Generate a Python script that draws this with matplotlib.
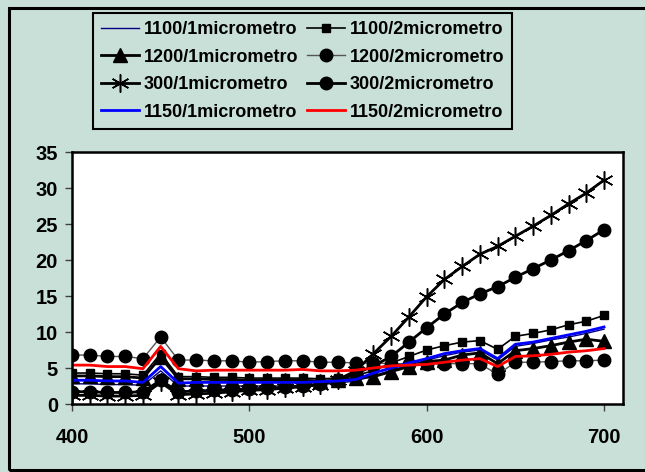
import numpy as np
import matplotlib
matplotlib.use("Agg")
import matplotlib.pyplot as plt
from matplotlib.patches import Rectangle

plt.rcParams['font.family'] = ['Liberation Sans', 'DejaVu Sans']
plt.rcParams['font.weight'] = 'bold'

# dati
wl = np.arange(400, 701, 10)

s1100_1 = [2.8, 2.8, 2.7, 2.7, 2.6, 4.6, 2.5, 2.5, 2.5, 2.5, 2.5, 2.5, 2.5, 2.6, 2.7,
           2.9, 3.2, 3.9, 4.7, 5.4, 6.1, 6.7, 7.2, 7.5, 6.1, 8.0, 8.4, 8.9, 9.3, 9.8, 10.4]
s1100_2 = [4.3, 4.3, 4.2, 4.2, 4.0, 7.0, 3.8, 3.8, 3.7, 3.7, 3.6, 3.6, 3.6, 3.6, 3.5,
           3.6, 4.0, 4.6, 5.7, 6.6, 7.5, 8.1, 8.6, 8.8, 7.6, 9.4, 9.8, 10.3, 11.0, 11.5, 12.3]
s1200_1 = [3.9, 3.9, 3.8, 3.8, 3.6, 6.5, 3.5, 3.5, 3.4, 3.4, 3.3, 3.3, 3.3, 3.3, 3.2,
           3.3, 3.6, 3.8, 4.5, 5.2, 5.9, 6.1, 6.8, 7.1, 5.6, 7.4, 7.7, 8.1, 8.6, 9.0, 8.7]
s1200_2 = [6.8, 6.8, 6.6, 6.6, 6.3, 9.3, 6.1, 6.1, 6.0, 6.0, 5.8, 5.9, 6.0, 6.0, 5.8,
           5.8, 5.7, 5.7, 5.6, 5.6, 5.6, 5.6, 5.6, 5.6, 4.1, 5.8, 5.8, 5.9, 6.0, 6.0, 6.1]
s300_1 = [1.2, 1.2, 1.1, 1.1, 1.2, 3.0, 1.3, 1.4, 1.5, 1.7, 1.9, 2.0, 2.2, 2.4, 2.7,
          3.4, 4.6, 7.0, 9.4, 12.1, 14.9, 17.3, 19.1, 20.8, 21.9, 23.3, 24.7, 26.2, 27.8, 29.3, 31.1]
s300_2 = [1.7, 1.7, 1.6, 1.6, 1.7, 3.3, 1.7, 1.8, 1.9, 2.0, 2.1, 2.2, 2.3, 2.5, 2.8,
          3.3, 4.2, 5.3, 6.6, 8.6, 10.6, 12.5, 14.1, 15.3, 16.3, 17.6, 18.8, 20.0, 21.3, 22.7, 24.2]
s1150_1 = [3.3, 3.3, 3.2, 3.2, 3.0, 5.2, 2.9, 3.0, 3.0, 3.0, 3.0, 3.0, 3.0, 3.0, 3.1,
           3.2, 3.4, 4.3, 5.0, 5.7, 6.3, 7.0, 7.4, 7.7, 6.3, 8.3, 8.6, 9.1, 9.6, 10.1, 10.7]
s1150_2 = [5.4, 5.4, 5.2, 5.2, 4.9, 8.0, 4.9, 4.6, 4.7, 4.7, 4.7, 4.7, 4.7, 4.8, 4.6,
           4.6, 4.7, 5.0, 5.3, 5.4, 5.5, 5.8, 6.1, 6.3, 5.2, 6.6, 6.7, 6.9, 7.2, 7.4, 7.7]

bg = '#C9E0D9'
fig = plt.figure(figsize=(6.45, 4.72), dpi=100, facecolor=bg)
ax = fig.add_axes([72 / 645, 68 / 472, 551 / 645, 252 / 472])
ax.set_facecolor('white')

# bordo esterno
fig.patches.append(Rectangle((9 / 645, 2 / 472), 660 / 645, 462 / 472, transform=fig.transFigure,
                             fill=False, edgecolor='black', linewidth=2.2))

h = {}
h['1100/1'], = ax.plot(wl, s1100_1, color='#000080', lw=1)
h['1100/2'], = ax.plot(wl, s1100_2, color='black', lw=1.2, marker='s', ms=6)
h['1200/1'], = ax.plot(wl, s1200_1, color='black', lw=2, marker='^', ms=10)
h['1200/2'], = ax.plot(wl, s1200_2, color='#555555', lw=1, marker='o', ms=9, mfc='black', mec='black')
h['300/1'], = ax.plot(wl, s300_1, color='black', lw=2, marker=(6, 2, 0), ms=13, mew=1.1)
h['300/2'], = ax.plot(wl, s300_2, color='black', lw=2, marker='o', ms=9)
h['1150/1'], = ax.plot(wl, s1150_1, color='#0000FF', lw=2)
h['1150/2'], = ax.plot(wl, s1150_2, color='#FF0000', lw=2)

ax.set_xlim(400, 710.7)
ax.set_ylim(0, 35)
ax.set_xticks([400, 500, 600, 700])
ax.set_yticks(np.arange(0, 36, 5))
ax.tick_params(direction='out', length=5, width=1, color='#404040', labelsize=14.5, pad=12)
ax.tick_params(axis='y', pad=5)
for sp in ax.spines.values():
    sp.set_linewidth(1.8)
    sp.set_color('black')

order = ['1100/1', '1200/1', '300/1', '1150/1', '1100/2', '1200/2', '300/2', '1150/2']
leg = fig.legend([h[k] for k in order], [k + 'micrometro' for k in order],
                 loc='upper left', bbox_to_anchor=(93 / 645, 1 - 13 / 472), ncol=2,
                 fontsize=13, frameon=True, fancybox=False, facecolor=bg, edgecolor='black',
                 framealpha=1, handlelength=2.1, handletextpad=0.25, columnspacing=0.5,
                 labelspacing=0.58, borderpad=0.45, borderaxespad=0)
leg.get_frame().set_linewidth(1.5)

fig.savefig('out.png', dpi=100, facecolor=bg)
